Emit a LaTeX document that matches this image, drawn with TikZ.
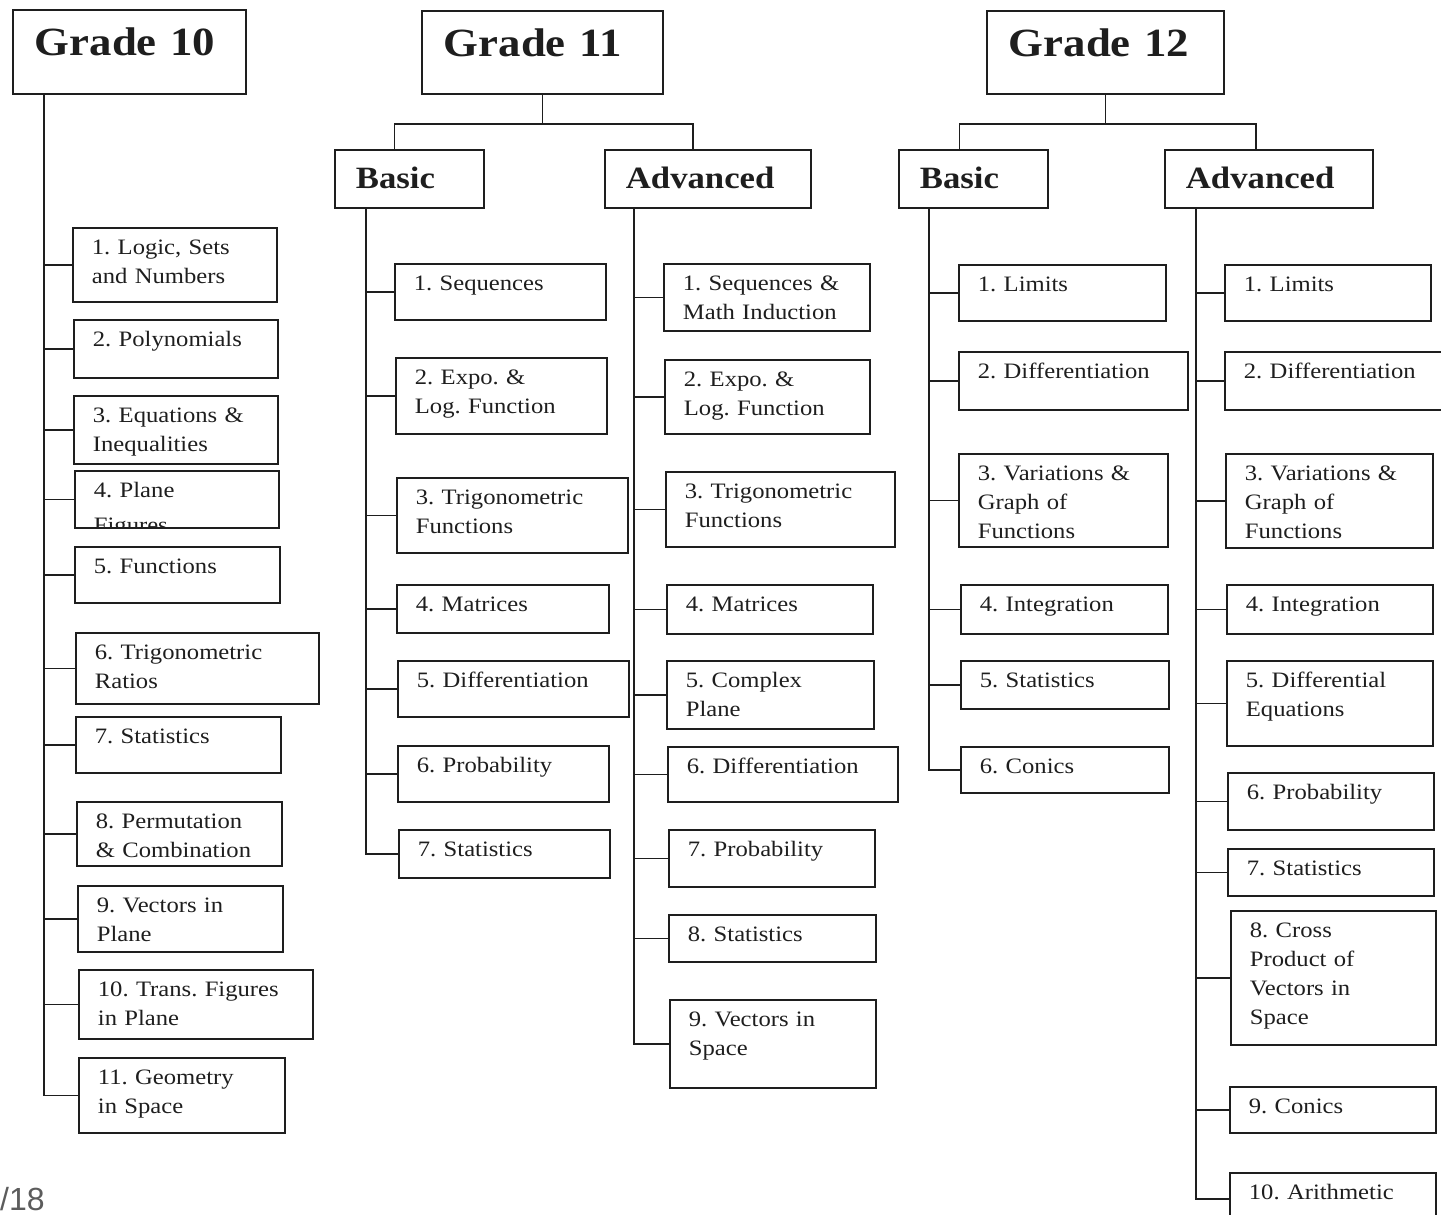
\documentclass[tikz,border=0pt]{standalone}
\usepackage{fontspec}
\setmainfont{Liberation Serif}[FakeStretch=1.12]
\newfontfamily\pagefont{Liberation Sans}
\usepackage{xcolor}
\definecolor{ink}{HTML}{1E1E1E}
\definecolor{pagegray}{HTML}{5C5C5C}
\frenchspacing

\begin{document}
\begin{tikzpicture}[x=1pt, y=-1pt,
  frame/.style={draw=ink, line width=1.8pt, anchor=north west, inner ysep=0pt, align=left, text=ink},
  grade/.code 2 args={\pgfmathsetlengthmacro\headw{#1pt-44pt}\pgfmathsetlengthmacro\headd{#2pt-46pt}%
    \tikzset{frame, inner xsep=22pt, font=\fontsize{40}{44}\selectfont\bfseries, text width=\headw, text height=46pt, text depth=\headd}},
  track/.code 2 args={\pgfmathsetlengthmacro\headw{#1pt-42pt}\pgfmathsetlengthmacro\headd{#2pt-39pt}%
    \tikzset{frame, inner xsep=21pt, font=\fontsize{31}{35}\selectfont\bfseries, text width=\headw, text height=39pt, text depth=\headd}},
  leaf/.code 2 args={\pgfmathsetlengthmacro\leafw{#1pt-38pt}\pgfmathsetlengthmacro\leafd{#2pt-27pt}%
    \tikzset{frame, inner xsep=19pt, font=\fontsize{22}{29}\selectfont, text width=\leafw, text height=27pt, text depth=\leafd}},
  link/.style={draw=ink, line width=1.8pt}
]
\useasboundingbox (0,0) rectangle (1441,1215);

\node[grade={233}{84}] (g10) at (12,9) {Grade 10};
\node[leaf={204}{74}] (g10t1) at (72,227) {1. Logic, Sets\\and Numbers};
\node[leaf={204}{58}] (g10t2) at (73,319) {2. Polynomials};
\node[leaf={204}{68}] (g10t3) at (73,395) {3. Equations \&\\Inequalities};
\begin{scope}
  \clip (60,460) rectangle (300,528);
  \node[leaf={204}{57}] (g10t4) at (74,470) {4. Plane\\[6pt]Figures};
\end{scope}
\node[leaf={205}{56}] (g10t5) at (74,546) {5. Functions};
\node[leaf={243}{71}] (g10t6) at (75,632) {6. Trigonometric\\Ratios};
\node[leaf={205}{56}] (g10t7) at (75,716) {7. Statistics};
\node[leaf={205}{64}] (g10t8) at (76,801) {8. Permutation\\\&~Combination};
\node[leaf={205}{66}] (g10t9) at (77,885) {9. Vectors in\\Plane};
\node[leaf={234}{69}] (g10t10) at (78,969) {10. Trans. Figures\\in Plane};
\node[leaf={206}{75}] (g10t11) at (78,1057) {11. Geometry\\in Space};

\node[grade={241}{83}] (g11) at (421,10) {Grade 11};
\node[track={149}{58}] (g11b) at (334,149) {Basic};
\node[track={206}{58}] (g11a) at (604,149) {Advanced};
\node[leaf={211}{56}] (g11bt1) at (394,263) {1. Sequences};
\node[leaf={211}{76}] (g11bt2) at (395,357) {2. Expo. \&\\Log. Function};
\node[leaf={231}{75}] (g11bt3) at (396,477) {3. Trigonometric\\Functions};
\node[leaf={212}{48}] (g11bt4) at (396,584) {4. Matrices};
\node[leaf={231}{56}] (g11bt5) at (397,660) {5. Differentiation};
\node[leaf={211}{56}] (g11bt6) at (397,745) {6. Probability};
\node[leaf={211}{48}] (g11bt7) at (398,829) {7. Statistics};
\node[leaf={206}{67}] (g11at1) at (663,263) {1.~Sequences~\&\\Math~Induction};
\node[leaf={205}{74}] (g11at2) at (664,359) {2. Expo. \&\\Log. Function};
\node[leaf={229}{75}] (g11at3) at (665,471) {3. Trigonometric\\Functions};
\node[leaf={206}{49}] (g11at4) at (666,584) {4. Matrices};
\node[leaf={207}{68}] (g11at5) at (666,660) {5. Complex\\Plane};
\node[leaf={230}{55}] (g11at6) at (667,746) {6. Differentiation};
\node[leaf={206}{57}] (g11at7) at (668,829) {7. Probability};
\node[leaf={207}{47}] (g11at8) at (668,914) {8. Statistics};
\node[leaf={206}{88}] (g11at9) at (669,999) {9. Vectors in\\Space};

\node[grade={237}{83}] (g12) at (986,10) {Grade 12};
\node[track={149}{58}] (g12b) at (898,149) {Basic};
\node[track={208}{58}] (g12a) at (1164,149) {Advanced};
\node[leaf={207}{56}] (g12bt1) at (958,264) {1. Limits};
\node[leaf={229}{58}] (g12bt2) at (958,351) {2. Differentiation};
\node[leaf={209}{93}] (g12bt3) at (958,453) {3.~Variations~\&\\Graph of\\Functions};
\node[leaf={207}{49}] (g12bt4) at (960,584) {4. Integration};
\node[leaf={208}{48}] (g12bt5) at (960,660) {5. Statistics};
\node[leaf={208}{46}] (g12bt6) at (960,746) {6. Conics};
\node[leaf={206}{56}] (g12at1) at (1224,264) {1. Limits};
\node[leaf={225}{58}] (g12at2) at (1224,351) {2. Differentiation};
\node[leaf={207}{94}] (g12at3) at (1225,453) {3.~Variations~\&\\Graph of\\Functions};
\node[leaf={206}{49}] (g12at4) at (1226,584) {4. Integration};
\node[leaf={206}{85}] (g12at5) at (1226,660) {5. Differential\\Equations};
\node[leaf={206}{57}] (g12at6) at (1227,772) {6. Probability};
\node[leaf={206}{47}] (g12at7) at (1227,848) {7. Statistics};
\node[leaf={205}{134}] (g12at8) at (1230,910) {8. Cross\\Product of\\Vectors in\\Space};
\node[leaf={206}{46}] (g12at9) at (1229,1086) {9. Conics};
\node[leaf={206}{52}] (g12at10) at (1229,1172) {10. Arithmetic};

\node[font=\pagefont\fontsize{32}{36}\selectfont, text=pagegray, anchor=base west, inner sep=0pt] (pageno) at (0,1210) {/18};

\coordinate (g10r) at ([xshift=32pt]g10.south west);
\coordinate (g11br) at ([xshift=32pt]g11b.south west);
\coordinate (g11ar) at ([xshift=30pt]g11a.south west);
\coordinate (g12br) at ([xshift=31pt]g12b.south west);
\coordinate (g12ar) at ([xshift=32pt]g12a.south west);

\draw[link] (g11.south) -- ++(0,29) coordinate (g11j);
\draw[link] (g11j) -| ([xshift=-15pt]g11b.north);
\draw[link] (g11j) -| ([xshift=-15pt]g11a.north);
\draw[link] (g12.south) -- ++(0,29) coordinate (g12j);
\draw[link] (g12j) -| ([xshift=-14pt]g12b.north);
\draw[link] (g12j) -| ([xshift=-13pt]g12a.north);

\foreach \i in {1,...,11} \draw[link] (g10r) |- (g10t\i.west);
\foreach \i in {1,...,7} \draw[link] (g11br) |- (g11bt\i.west);
\foreach \i in {1,...,9} \draw[link] (g11ar) |- (g11at\i.west);
\foreach \i in {1,...,6} \draw[link] (g12br) |- (g12bt\i.west);
\foreach \i in {1,...,10} \draw[link] (g12ar) |- (g12at\i.west);
\end{tikzpicture}
\end{document}
